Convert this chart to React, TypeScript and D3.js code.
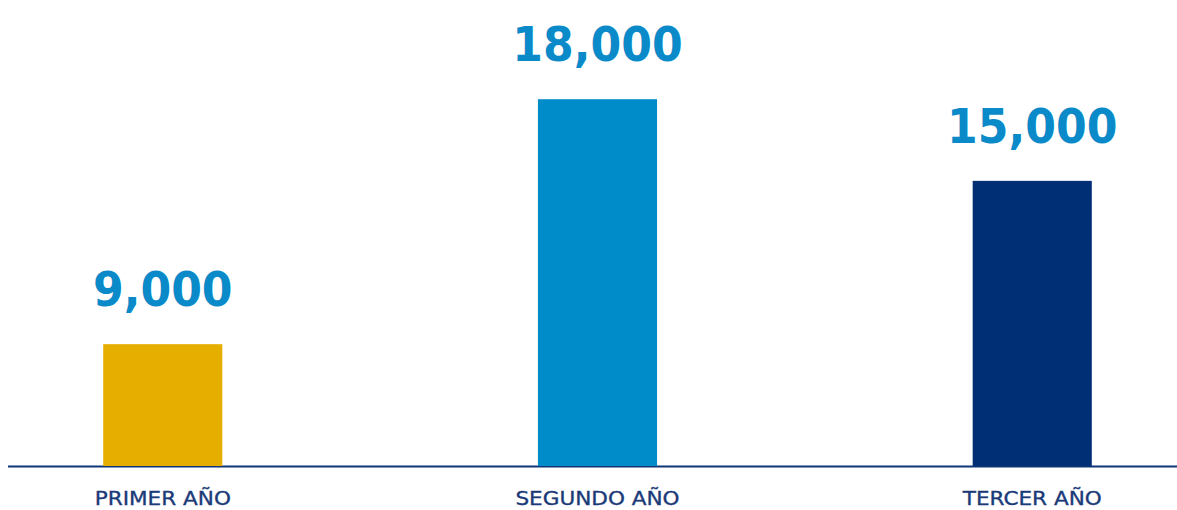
import React from "react";
import * as d3 from "d3";

const categories = ["PRIMER AÑO", "SEGUNDO AÑO", "TERCER AÑO"];
const values = [9000, 18000, 15000];
const valueLabels = ["9,000", "18,000", "15,000"];
const barColors = ["#E6AF00", "#008BC9", "#002F76"];

const W = 1177;
const H = 510;
const baseY = 466;

export default function App() {
  const x = d3
    .scaleBand<string>()
    .domain(categories)
    .range([18, W])
    .paddingInner(0.726)
    .paddingOuter(0.196);
  const y = d3.scaleLinear().domain([4525, 18000]).range([baseY, baseY - 366.8]);

  return (
    <div style={{ position: "absolute", left: 0, top: 0 }}>
      <svg width={W} height={H} style={{ display: "block", background: "#fff" }}>
        <line x1={8} x2={W} y1={466.4} y2={466.4} stroke="#0E3578" strokeWidth={2} />
        {categories.map((c, i) => {
          const bx = x(c) as number;
          const top = y(values[i]);
          const cx = bx + x.bandwidth() / 2;
          return (
            <g key={c}>
              <rect x={bx} y={top} width={x.bandwidth()} height={baseY - top} fill={barColors[i]} />
              <text
                transform={`translate(${cx},${top - 38}) scale(0.92,1)`}
                textAnchor="middle"
                fontFamily="'DejaVu Sans', sans-serif"
                fontWeight="bold"
                fontSize={48}
                fill="#0A8AC8"
              >
                {valueLabels[i]}
              </text>
              <text
                transform={`translate(${cx},505) scale(1.1,1)`}
                textAnchor="middle"
                fontFamily="'DejaVu Sans', sans-serif"
                fontSize={19.6}
                fill="#1B3A78"
                stroke="#1B3A78"
                strokeWidth={0.35}
              >
                {c}
              </text>
            </g>
          );
        })}
      </svg>
    </div>
  );
}
